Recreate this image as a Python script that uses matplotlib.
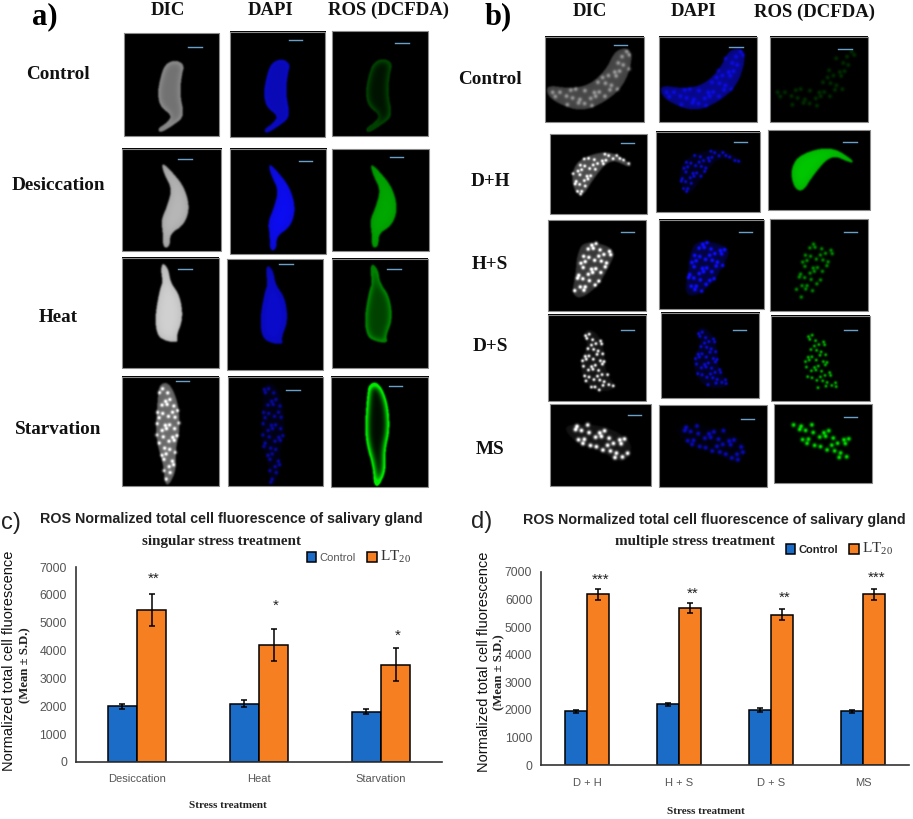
import numpy as np
import matplotlib
matplotlib.use('Agg')
import matplotlib.pyplot as plt
from matplotlib.path import Path

W, H = 913, 819
SERIF = 'Liberation Serif'
SANS = 'Liberation Sans'
plt.rcParams['font.family'] = [SANS, 'DejaVu Sans']
plt.rcParams['mathtext.fontset'] = 'custom'
plt.rcParams['mathtext.rm'] = SERIF

# bar chart data
single_labels = ['Desiccation', 'Heat', 'Starvation']
single_control = [2000, 2100, 1800]
single_control_sd = [100, 110, 90]
single_lt20 = [5450, 4200, 3500]
single_lt20_sd = [570, 590, 580]
single_stars = ['**', '*', '*']
single_star_y = [6560, 5600, 4530]

multi_labels = ['D + H', 'H + S', 'D + S', 'MS']
multi_control = [1950, 2200, 2000, 1950]
multi_control_sd = [50, 60, 60, 50]
multi_lt20 = [6200, 5700, 5450, 6200]
multi_lt20_sd = [200, 190, 190, 200]
multi_stars = ['***', '**', '**', '***']
multi_star_y = [6700, 6200, 6060, 6800]

BLUE = '#1b6cc6'
ORANGE = '#f67f22'
GREY = '#555555'

# gland outlines, as fractions of the panel
shape_control_a = [(.43, .30), (.54, .26), (.63, .31), (.60, .41), (.58, .59), (.63, .81), (.52, .89),
                   (.38, .97), (.35, .93), (.45, .87), (.50, .80), (.38, .72), (.35, .59), (.38, .43)]
shape_desic = [(.41, .15), (.48, .21), (.62, .37), (.68, .58), (.62, .75), (.48, .83), (.48, .96),
               (.41, .97), (.41, .83), (.39, .70), (.45, .57), (.50, .40), (.43, .27), (.40, .18)]
shape_heat = [(.42, .05), (.48, .11), (.50, .23), (.60, .35), (.63, .56), (.56, .71), (.58, .77),
              (.46, .76), (.36, .71), (.34, .53), (.39, .29), (.42, .23), (.40, .11)]
shape_starv = [(.39, .07), (.49, .06), (.58, .24), (.60, .49), (.55, .67), (.56, .85), (.49, .99),
               (.44, .98), (.43, .82), (.36, .61), (.35, .43), (.37, .18)]
shape_control_b = [(.02, .57), (.25, .61), (.45, .57), (.62, .39), (.71, .16), (.86, .14), (.88, .31),
                   (.79, .59), (.59, .78), (.36, .88), (.12, .78), (.02, .68)]
shape_dh = [(.22, .49), (.31, .30), (.62, .20), (.84, .38), (.82, .42), (.62, .30), (.44, .57),
            (.34, .78), (.25, .72)]
shape_hs = [(.36, .22), (.70, .31), (.60, .55), (.50, .73), (.33, .87), (.24, .81), (.28, .59), (.29, .40)]
shape_ds = [(.40, .17), (.50, .22), (.57, .41), (.58, .68), (.69, .83), (.60, .90), (.40, .85),
            (.31, .56), (.41, .37), (.36, .24)]
shape_ms = [(.13, .29), (.24, .24), (.56, .27), (.81, .45), (.79, .64), (.69, .72), (.49, .56), (.26, .48)]

# rows of micrographs: label, label y, shape, nucleus spacing,
# panels (x0, x1, y0, y1), scale bar centres, (body, nuclei, rim) level per channel
rows_a = [
    ('Control', 74.7, shape_control_a, 0,
     [(123.7, 219, 32.7, 135.7), (229.7, 325, 32, 137.3), (332.3, 427.7, 30.7, 135.7)],
     [(195, 46.7), (295.3, 40.3), (402, 42.7)],
     [(.45, 0, .12), (.72, 0, .1), (.08, 0, .2)]),
    ('Desiccation', 186, shape_desic, 0,
     [(122.3, 221.3, 148.7, 251), (229.7, 326, 148.7, 254), (332.3, 429, 149, 251)],
     [(185, 159.3), (305.3, 161), (396.3, 157)],
     [(.72, 0, 0), (.95, 0, 0), (.72, 0, 0)]),
    ('Heat', 318, shape_heat, 0,
     [(122.3, 219, 258, 368.3), (226.7, 323, 259.3, 369.7), (332.3, 428.3, 259.3, 368.3)],
     [(185, 269), (286, 264.3), (394, 269)],
     [(.82, 0, 0), (.8, 0, 0), (.28, 0, .3)]),
    ('Starvation', 429, shape_starv, 7,
     [(122.3, 219, 376.7, 486), (228.3, 323, 376.7, 486), (330.7, 428.3, 376.7, 487)],
     [(182.7, 381), (293, 389.7), (395.7, 385.7)],
     [(.42, .6, 0), (.08, .55, 0), (.05, 0, 1)]),
]
rows_b = [
    ('Control', 80, shape_control_b, 8,
     [(545, 644, 36.7, 122), (659.3, 757.3, 36.7, 122), (770.3, 868.3, 36.7, 122)],
     [(620.7, 45), (736, 46.7), (845, 49)],
     [(.28, .3, 0), (.55, .35, 0), (0, .18, 0)]),
    ('D+H', 182, shape_dh, 6,
     [(550.3, 647.3, 134.3, 214), (656.3, 760.3, 131.7, 212), (768, 869.7, 130.3, 209.7)],
     [(627.3, 143), (740.3, 142.3), (850, 142)],
     [(.3, .7, 0), (.12, .7, 0), (.85, 0, 0)]),
    ('H+S', 264.5, shape_hs, 7,
     [(547.7, 646, 220, 310.7), (659.3, 763.7, 220, 309.3), (770.3, 868.3, 218.7, 310.7)],
     [(627.7, 231.7), (745.7, 231.7), (850.7, 231.7)],
     [(.22, .85, 0), (.25, .85, 0), (0, .55, 0)]),
    ('D+S', 346.5, shape_ds, 6,
     [(547.7, 646, 314.7, 401), (660.7, 759, 312.7, 398.3), (771.3, 869.7, 315.7, 401.3)],
     [(627.3, 330), (739.3, 330), (850.7, 330)],
     [(.08, .85, 0), (.15, .7, 0), (0, .7, 0)]),
    ('MS', 449, shape_ms, 8,
     [(550.3, 651.3, 404.3, 486), (659.3, 766.7, 405.3, 487), (774.3, 872, 404.3, 483.3)],
     [(634.7, 415), (747.7, 419), (850.7, 417)],
     [(.08, .95, 0), (.05, .7, 0), (0, .95, 0)]),
]
channel_rgb = [(1, 1, 1), (.05, .05, 1), (0, .92, 0)]


def blur(img, sigma):
    r = int(3 * sigma) + 1
    k = np.exp(-0.5 * (np.arange(-r, r + 1) / sigma) ** 2)
    k = k / k.sum()
    img = np.apply_along_axis(lambda v: np.convolve(v, k, mode='same'), 0, img)
    return np.apply_along_axis(lambda v: np.convolve(v, k, mode='same'), 1, img)


def rounded(shape, rounds=3):
    # corner cutting so the outlines are not angular
    pts = np.array(shape)
    for _ in range(rounds):
        nxt = np.roll(pts, -1, axis=0)
        pts = np.vstack([np.c_[.75 * pts + .25 * nxt], np.c_[.25 * pts + .75 * nxt]])[
            np.arange(2 * len(pts)).reshape(2, -1).T.ravel()]
    return pts


def gland_image(box, shape, spacing, levels, rgb):
    x0, x1, y0, y1 = box
    nx, ny = int((x1 - x0) * 2), int((y1 - y0) * 2)
    gx, gy = np.meshgrid((np.arange(nx) + .5) / nx, (np.arange(ny) + .5) / ny)
    outline = Path(rounded(shape))
    inside = outline.contains_points(np.c_[gx.ravel(), gy.ravel()]).reshape(ny, nx)
    soft = blur(inside.astype(float), 1.6)
    body, nuclei, rim = levels
    value = body * soft * (0.85 + 0.15 * blur(inside.astype(float), 10))
    if rim:
        value += rim * np.clip(soft * (1 - blur(inside.astype(float), 7)) * 2.6, 0, 1)
    if nuclei and spacing:
        # staggered grid of nuclei kept inside the outline, nudged so it is not a perfect lattice
        px, py = gx * (x1 - x0), gy * (y1 - y0)
        spots = np.zeros_like(value)
        for j, cy in enumerate(np.arange(0, y1 - y0, spacing * .85)):
            for i, cx in enumerate(np.arange((j % 2) * spacing / 2, x1 - x0, spacing)):
                cx2 = cx + spacing * .22 * np.sin(i * 2.3 + j * 1.7)
                cy2 = cy + spacing * .22 * np.cos(i * 1.3 + j * 2.9)
                if outline.contains_point((cx2 / (x1 - x0), cy2 / (y1 - y0))):
                    spots += np.exp(-((px - cx2) ** 2 + (py - cy2) ** 2) / (2 * (spacing * .19) ** 2))
        value += nuclei * np.clip(spots, 0, 1)
    value = np.clip(value, 0, 1)
    return value[..., None] * np.array(rgb)


def chart_axes(x0, x1, y_top, y_bottom):
    return fig.add_axes([x0 / W, 1 - y_bottom / H, (x1 - x0) / W, (y_bottom - y_top) / H], facecolor='none')


def bar_chart(ax, labels, control, control_sd, lt20, lt20_sd, stars, star_y):
    x = np.arange(len(labels))
    width = 0.24
    err = dict(ecolor='black', elinewidth=1.1, capsize=2.5, capthick=1.1)
    ax.bar(x - width / 2, control, width, yerr=control_sd, color=BLUE, edgecolor='black',
           linewidth=1.1, error_kw=err, label='Control')
    ax.bar(x + width / 2, lt20, width, yerr=lt20_sd, color=ORANGE, edgecolor='black',
           linewidth=1.1, error_kw=err, label=r'$\mathrm{LT}_{20}$')
    for i in range(len(labels)):
        ax.text(x[i] + width / 2 + 0.02, star_y[i], stars[i], ha='center', va='center',
                fontsize=11, color='#222222')
    ax.set_xlim(-0.5, len(labels) - 0.5)
    ax.set_ylim(0, 7000)
    ax.set_yticks(range(0, 7001, 1000))
    ax.set_xticks(x)
    ax.set_xticklabels(labels)
    ax.tick_params(axis='both', length=0, labelcolor=GREY)
    ax.tick_params(axis='x', pad=9, labelsize=8)
    ax.tick_params(axis='y', pad=6.5, labelsize=8.8)
    for s in ['top', 'right']:
        ax.spines[s].set_visible(False)
    for s in ['left', 'bottom']:
        ax.spines[s].set_color('#333333')
        ax.spines[s].set_linewidth(1.2)


fig = plt.figure(figsize=(W / 100, H / 100), dpi=100)
bg = fig.add_axes([0, 0, 1, 1])
bg.axis('off')

for rows in [rows_a, rows_b]:
    for label, ly, shape, spacing, boxes, bars, levels in rows:
        for c in range(3):
            x0, x1, y0, y1 = boxes[c]
            bg.imshow(gland_image(boxes[c], shape, spacing, levels[c], channel_rgb[c]),
                      extent=(x0, x1, y1, y0), aspect='auto')
            bg.plot([x0, x1, x1, x0, x0], [y0, y0, y1, y1, y0], color='#8a8a8a', lw=0.8)
            bx, by = bars[c]
            bg.plot([bx - 6.7, bx + 6.7], [by, by], color='#6a9fc8', lw=1.0)
bg.set_xlim(0, W)
bg.set_ylim(H, 0)

# text of the micrograph blocks
head = dict(family=SERIF, weight='bold', fontsize=13.5, ha='center', va='center', color='#111111')
for txt, x in zip(['DIC', 'DAPI', 'ROS (DCFDA)'], [168, 271, 389]):
    bg.text(x, 10.5, txt, **head)
for txt, x in zip(['DIC', 'DAPI', 'ROS (DCFDA)'], [590, 694, 814]):
    bg.text(x, 12, txt, **head)
row_font = dict(family=SERIF, weight='bold', fontsize=13.8, ha='center', va='center', color='#111111')
for r in rows_a:
    bg.text(58, r[1], r[0], **row_font)
for r in rows_b:
    bg.text(490, r[1], r[0], **row_font)
bg.text(45, 17, 'a)', family=SERIF, weight='bold', fontsize=22, ha='center', va='center')
bg.text(498, 17, 'b)', family=SERIF, weight='bold', fontsize=22, ha='center', va='center')
bg.text(11, 523, 'c)', family=SANS, fontsize=17, ha='center', va='center', color='#222222')
bg.text(482, 522, 'd)', family=SANS, fontsize=17, ha='center', va='center', color='#222222')

# titles and axis texts of the charts
title1 = dict(family=SANS, weight='bold', fontsize=10.3, ha='center', va='center', color='#222222')
title2 = dict(family=SERIF, weight='bold', fontsize=10.9, ha='center', va='center', color='#222222')
bg.text(231.5, 519, 'ROS Normalized total cell fluorescence of salivary gland', **title1)
bg.text(222, 542, 'singular stress treatment', **title2)
bg.text(714.5, 520, 'ROS Normalized total cell fluorescence of salivary gland', **title1)
bg.text(695, 542, 'multiple stress treatment', **title2)
small = dict(family=SERIF, weight='bold', fontsize=8, ha='center', va='center', color='#222222')
bg.text(228, 805, 'Stress treatment', **small)
bg.text(706, 811, 'Stress treatment', **small)
mean = dict(family=SERIF, weight='bold', fontsize=9.2, rotation=90, ha='center', va='center', color='#222222')
bg.text(25, 665, '(Mean ± S.D.)', **mean)
bg.text(499, 672, '(Mean ± S.D.)', **mean)
ylab = dict(family=SANS, fontsize=10.5, rotation=90, ha='center', va='center', color='#111111')
bg.text(9.5, 661, 'Normalized total cell fluorescence', **ylab)
bg.text(484, 662, 'Normalized total cell fluorescence', **ylab)

ax_c = chart_axes(76, 442, 567, 762)
ax_d = chart_axes(541.3, 909.3, 572, 765)
bar_chart(ax_c, single_labels, single_control, single_control_sd, single_lt20, single_lt20_sd,
          single_stars, single_star_y)
bar_chart(ax_d, multi_labels, multi_control, multi_control_sd, multi_lt20, multi_lt20_sd,
          multi_stars, multi_star_y)

for ax, cx, cy, col, wt in [(ax_c, 359, 557, GREY, 'normal'), (ax_d, 839.5, 549, '#222222', 'bold')]:
    leg = ax.legend(loc='center', bbox_to_anchor=(cx / W, 1 - cy / H), bbox_transform=fig.transFigure,
                    ncol=2, frameon=False, fontsize=8, handlelength=0.85, handleheight=1.0,
                    handletextpad=0.3, columnspacing=1.0, borderpad=0)
    leg.get_texts()[0].set_color(col)
    leg.get_texts()[0].set_fontweight(wt)
    leg.get_texts()[1].set_fontsize(11)
    leg.get_texts()[1].set_color('#333333')

fig.savefig('out.png', dpi=100)
